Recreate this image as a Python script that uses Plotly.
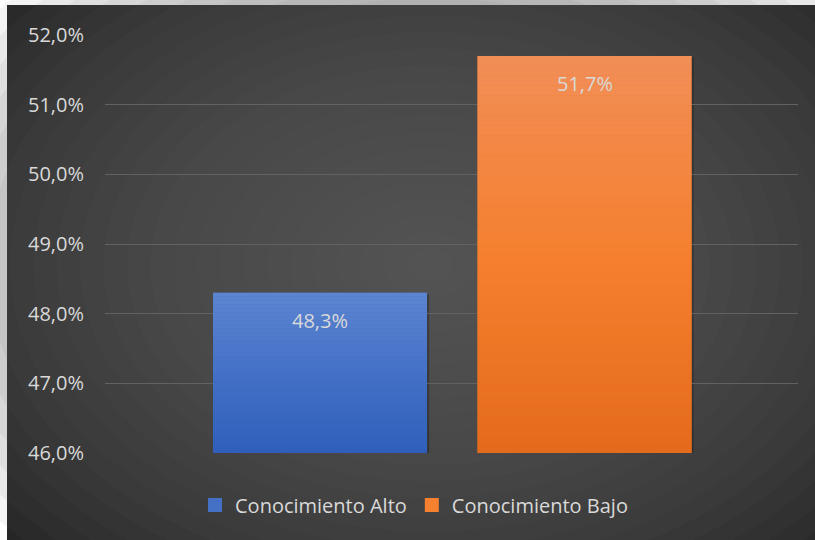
import plotly.graph_objects as go

categories = ["Conocimiento Alto", "Conocimiento Bajo"]
values = [48.3, 51.7]
labels = ["48,3%", "51,7%"]
colors = ["#4472c4", "#ed7d31"]
grad_stops = [
    [(0.0, "#2e5fba"), (0.5, "#4470c6"), (1.0, "#5d86d1")],
    [(0.0, "#e46a1b"), (0.5, "#f5802f"), (1.0, "#f18e57")],
]
y_ticks = [46, 47, 48, 49, 50, 51, 52]
y_ticktext = ["46,0%", "47,0%", "48,0%", "49,0%", "50,0%", "51,0%", "52,0%"]

W, H = 815, 540
L, R, T, B = 105, 17, 35, 87
pw, ph = W - L - R, H - T - B
BAR_W = 0.809
Y0 = 46

def px_x(p):
    return (p - L) / pw

def px_y(p):
    return (H - B - p) / ph

def hex2rgb(h):
    h = h.lstrip("#")
    return [int(h[i:i + 2], 16) for i in (0, 2, 4)]

def interp(stops, t):
    for (t0, c0), (t1, c1) in zip(stops[:-1], stops[1:]):
        if t0 <= t <= t1:
            a = (t - t0) / (t1 - t0)
            r0, r1 = hex2rgb(c0), hex2rgb(c1)
            return "rgb(%d,%d,%d)" % tuple(round(r0[k] + (r1[k] - r0[k]) * a) for k in range(3))
    return stops[-1][1]

font = "Open Sans"
txt = "#d9d9d9"

fig = go.Figure()
shapes = []
# white border + dark base
shapes.append(dict(type="rect", xref="paper", yref="paper", x0=px_x(7), x1=px_x(W + 5),
                   y0=px_y(H + 5), y1=px_y(5), fillcolor="#262626", line=dict(width=0), layer="below"))
cx, cy = 430, 265
n = 24
for k in range(n):
    f = 1 - k / n
    rx, ry = 560 * f, 400 * f
    shapes.append(dict(type="circle", xref="paper", yref="paper",
                       x0=px_x(cx - rx), x1=px_x(cx + rx), y0=px_y(cy + ry), y1=px_y(cy - ry),
                       fillcolor="#606060", opacity=0.07, line=dict(width=0), layer="below"))

for i, (c, v, col) in enumerate(zip(categories, values, colors)):
    fig.add_trace(go.Bar(x=[c], y=[v], name=c, marker=dict(color=col, line=dict(width=0)),
                         width=BAR_W, hoverinfo="skip", showlegend=False))
    # legend entry with a larger square swatch
    fig.add_trace(go.Scatter(x=[None], y=[None], mode="markers", name=c,
                             marker=dict(symbol="square", size=14, color=grad_stops[i][1][1]),
                             showlegend=True))
    # subtle shadow
    shapes.append(dict(type="rect", xref="x", yref="y", x0=i - BAR_W / 2 + 0.006, x1=i + BAR_W / 2 + 0.008,
                       y0=Y0, y1=v - 0.02, fillcolor="black", opacity=0.25, line=dict(width=0), layer="below"))
    nb = 40
    for k in range(nb):
        ya = Y0 + (v - Y0) * k / nb
        yb = Y0 + (v - Y0) * (k + 1) / nb
        shapes.append(dict(type="rect", xref="x", yref="y", x0=i - BAR_W / 2, x1=i + BAR_W / 2,
                           y0=ya, y1=yb, fillcolor=interp(grad_stops[i], (k + 0.5) / nb),
                           line=dict(width=0), layer="above"))
    fig.add_annotation(x=c, y=v, text=labels[i], showarrow=False, yanchor="top", yshift=-12,
                       font=dict(family=font, size=20, color=txt))

fig.update_layout(
    width=W, height=H,
    margin=dict(l=L, r=R, t=T, b=B),
    paper_bgcolor="white", plot_bgcolor="rgba(0,0,0,0)",
    barmode="overlay",
    shapes=shapes,
    showlegend=True,
    legend=dict(orientation="h", x=px_x(414), xanchor="center", y=px_y(505), yanchor="middle",
                font=dict(family=font, size=20, color=txt), bgcolor="rgba(0,0,0,0)",
                itemwidth=30, tracegroupgap=0, itemsizing="trace"),
    xaxis=dict(type="category", range=[-0.813, 1.807], showticklabels=False, showgrid=False,
               zeroline=False, showline=False, fixedrange=True),
    yaxis=dict(range=[46, 52], tickvals=y_ticks, ticktext=y_ticktext,
               showgrid=True, gridcolor="#626262", gridwidth=1, zeroline=False, showline=False,
               tickfont=dict(family=font, size=20, color=txt), ticklabelstandoff=20),
)

fig.write_html("out.html")
